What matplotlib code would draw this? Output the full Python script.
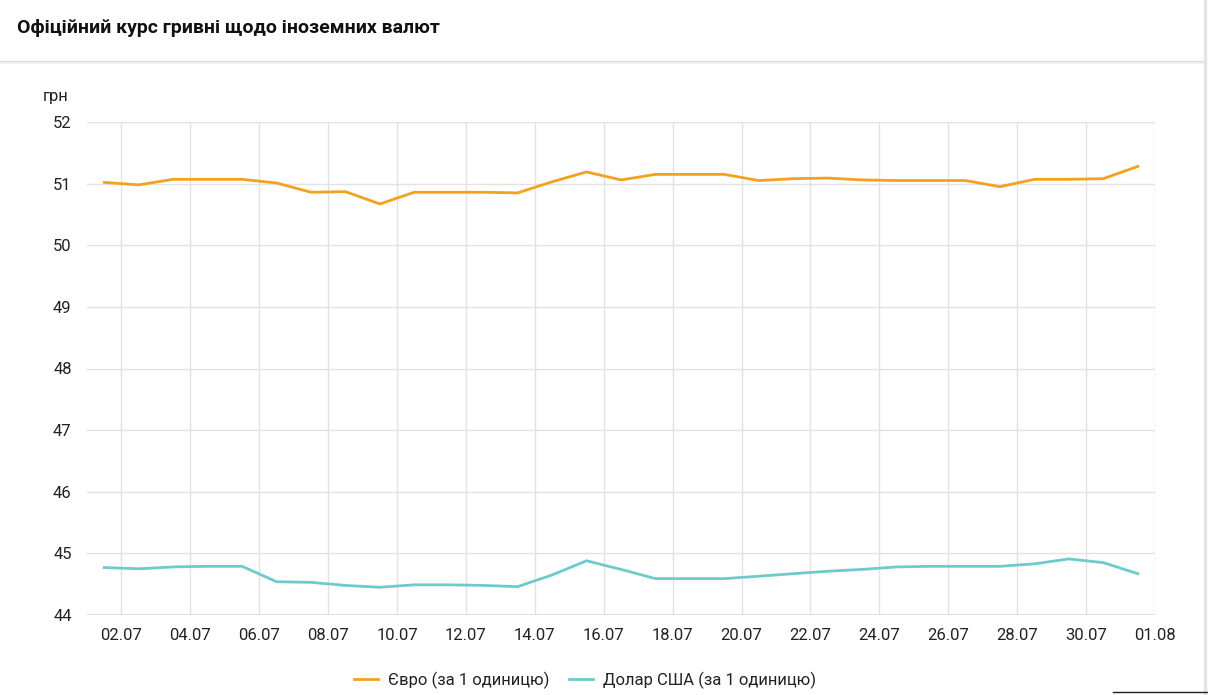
import matplotlib
matplotlib.use("Agg")
import matplotlib.pyplot as plt
import matplotlib.dates as mdates
from matplotlib.lines import Line2D
from datetime import datetime

plt.rcParams['font.family'] = ['Roboto', 'DejaVu Sans']

# ---- data ----
dates = ["01.07", "02.07", "03.07", "04.07", "05.07", "06.07", "07.07", "08.07",
         "09.07", "10.07", "11.07", "12.07", "13.07", "14.07", "15.07", "16.07",
         "17.07", "18.07", "19.07", "20.07", "21.07", "22.07", "23.07", "24.07",
         "25.07", "26.07", "27.07", "28.07", "29.07", "30.07", "31.07"]
eur = [51.02, 50.98, 51.07, 51.07, 51.07, 51.01, 50.86, 50.87, 50.67, 50.86,
       50.86, 50.86, 50.85, 51.03, 51.19, 51.06, 51.15, 51.15, 51.15, 51.05,
       51.08, 51.09, 51.06, 51.05, 51.05, 51.05, 50.95, 51.07, 51.07, 51.08,
       51.28]
usd = [44.77, 44.75, 44.78, 44.79, 44.79, 44.54, 44.53, 44.48, 44.45, 44.49,
       44.49, 44.48, 44.46, 44.65, 44.88, 44.74, 44.59, 44.59, 44.59, 44.63,
       44.67, 44.71, 44.74, 44.78, 44.79, 44.79, 44.79, 44.83, 44.91, 44.85,
       44.67]
tick_labels = ["02.07", "04.07", "06.07", "08.07", "10.07", "12.07", "14.07",
               "16.07", "18.07", "20.07", "22.07", "24.07", "26.07", "28.07",
               "30.07", "01.08"]
y_ticks = [44, 45, 46, 47, 48, 49, 50, 51, 52]
series_names = ["Євро (за 1 одиницю)", "Долар США (за 1 одиницю)"]
title = "Офіційний курс гривні щодо іноземних валют"
unit = "грн"
year = 2025

EUR_C = "#f4a21e"
USD_C = "#6ecbcb"
TXT = "#222222"
GRID = "#e2e2e2"

W, H = 1208, 695
fig = plt.figure(figsize=(W / 100, H / 100), dpi=100)
fig.patch.set_facecolor("white")


def to_num(s):
    d, m = s.split(".")
    return mdates.date2num(datetime(year, int(m), int(d)))


x = [to_num(s) + 0.5 for s in dates]
xt = [to_num(s) for s in tick_labels]

L, R, T, B = 87, 1155, 122, 615
ax = fig.add_axes([L / W, 1 - B / H, (R - L) / W, (B - T) / H])
ax.plot(x, eur, color=EUR_C, lw=2.0, solid_joinstyle="round", zorder=3)
ax.plot(x, usd, color=USD_C, lw=2.0, solid_joinstyle="round", zorder=3)

ax.set_xlim(to_num(dates[0]), to_num(tick_labels[-1]))
ax.set_ylim(y_ticks[0], y_ticks[-1])
ax.set_xticks(xt)
ax.set_xticklabels(tick_labels)
ax.set_yticks(y_ticks)
ax.grid(True, color=GRID, lw=1.0)
ax.set_axisbelow(True)
for s in ax.spines.values():
    s.set_visible(False)
ax.tick_params(axis="both", length=0, labelsize=12, colors=TXT)
ax.tick_params(axis="x", pad=9)
ax.tick_params(axis="y", pad=11)
ax.axhline(y_ticks[0], color="#dcdcdc", lw=1.2, zorder=1)

# unit label
fig.text(43 / W, 1 - 97 / H, unit, fontsize=12, color=TXT, ha="left", va="center")

# header
fig.text(17 / W, 1 - 28 / H, title, fontsize=14, fontweight="bold",
         color="#111111", ha="left", va="center")
fig.add_artist(Line2D([0, 1203 / W], [1 - 61 / H, 1 - 61 / H],
                      transform=fig.transFigure, color="#dadada", lw=1.0))
fig.add_artist(Line2D([0, 1203 / W], [1 - 62.5 / H, 1 - 62.5 / H],
                      transform=fig.transFigure, color="#f0f0f0", lw=1.2))
# right card border
fig.add_artist(Line2D([1205 / W, 1205 / W], [0, 1],
                      transform=fig.transFigure, color="#e4e4e4", lw=2.5))
# small dark line bottom right
fig.add_artist(Line2D([1113 / W, 1208 / W], [1 - 692 / H, 1 - 692 / H],
                      transform=fig.transFigure, color="#222222", lw=1.0))

handles = [Line2D([], [], color=EUR_C, lw=2.0), Line2D([], [], color=USD_C, lw=2.0)]
fig.legend(handles, series_names, loc="center", bbox_to_anchor=(585 / W, 1 - 680 / H),
           ncol=2, frameon=False, fontsize=12, handlelength=1.45, handletextpad=0.6,
           columnspacing=1.2, labelcolor=TXT)

fig.savefig("out.png", dpi=100, facecolor="white")
